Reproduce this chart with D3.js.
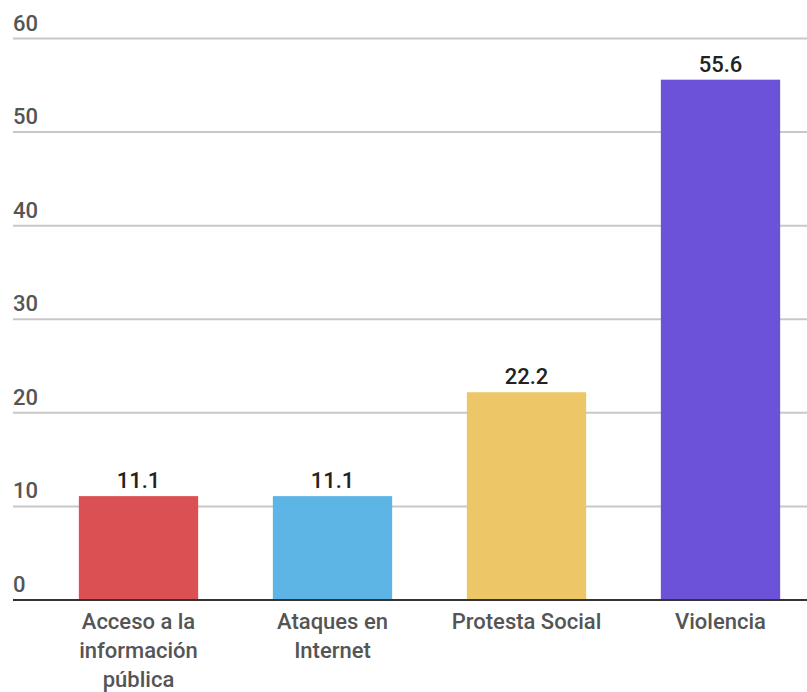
<!DOCTYPE html>
<html>
<head>
<meta charset="utf-8">
<script src="https://cdn.jsdelivr.net/npm/d3@7"></script>
<style>
  body { margin: 0; background: #fff; }
  svg text { font-family: Roboto, "Open Sans", sans-serif; font-weight: 500; }
</style>
</head>
<body>
<div id="canvas"></div>
<script>
var categories = [["Acceso a la", "información", "pública"], ["Ataques en", "Internet"], ["Protesta Social"], ["Violencia"]];
var values = [11.1, 11.1, 22.2, 55.6];
var colors = ["#db5053", "#5db5e6", "#edc767", "#6b52d9"];
var yTicks = [0, 10, 20, 30, 40, 50, 60];

var width = 807, height = 692;
var left = 13;

var svg = d3.select("#canvas").append("svg")
    .attr("width", width)
    .attr("height", height);

var x = d3.scaleBand()
    .domain(d3.range(values.length))
    .range([41.5, 817.5])
    .paddingInner(0.385)
    .paddingOuter(0.1925);

var y = d3.scaleLinear()
    .domain([0, 60])
    .range([600, 38.5]);

// gridlines
var grid = svg.append("g");
grid.selectAll("line")
    .data(yTicks.filter(function(d) { return d > 0; }))
  .enter().append("line")
    .attr("x1", left).attr("x2", width)
    .attr("y1", function(d) { return y(d); })
    .attr("y2", function(d) { return y(d); })
    .attr("stroke", "#c8c8c8")
    .attr("stroke-width", 2);

grid.selectAll("text")
    .data(yTicks)
  .enter().append("text")
    .attr("x", left)
    .attr("y", function(d) { return y(d) - 8; })
    .attr("font-size", 22)
    .attr("fill", "#555")
    .text(function(d) { return d; });

// bars
svg.selectAll("rect.bar")
    .data(values)
  .enter().append("rect")
    .attr("class", "bar")
    .attr("x", function(d, i) { return x(i); })
    .attr("width", x.bandwidth())
    .attr("y", function(d) { return y(d); })
    .attr("height", function(d) { return y(0) - y(d); })
    .attr("fill", function(d, i) { return colors[i]; });

svg.selectAll("text.val")
    .data(values)
  .enter().append("text")
    .attr("class", "val")
    .attr("x", function(d, i) { return x(i) + x.bandwidth() / 2; })
    .attr("y", function(d) { return y(d) - 8; })
    .attr("text-anchor", "middle")
    .attr("font-size", 22)
    .attr("fill", "#222")
    .text(function(d) { return d.toFixed(1); });

// baseline
svg.append("line")
    .attr("x1", left).attr("x2", width)
    .attr("y1", y(0)).attr("y2", y(0))
    .attr("stroke", "#333")
    .attr("stroke-width", 2);

// category labels
var cat = svg.selectAll("text.cat")
    .data(categories)
  .enter().append("text")
    .attr("class", "cat")
    .attr("text-anchor", "middle")
    .attr("font-size", 22)
    .attr("fill", "#555");

cat.selectAll("tspan")
    .data(function(d, i) { return d.map(function(t) { return {t: t, i: i}; }); })
  .enter().append("tspan")
    .attr("x", function(d) { return x(d.i) + x.bandwidth() / 2; })
    .attr("y", function(d, j) { return 629 + j * 29; })
    .text(function(d) { return d.t; });
</script>
</body>
</html>
